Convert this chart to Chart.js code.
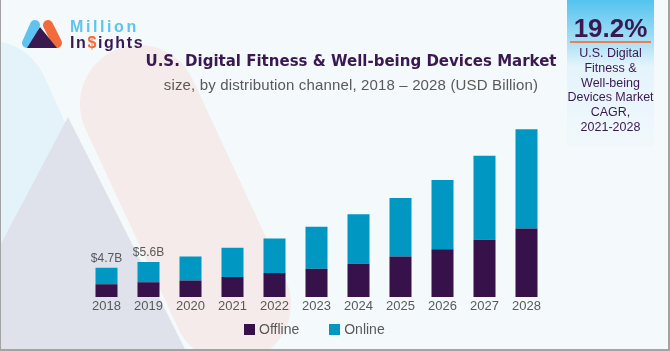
<!DOCTYPE html>
<html>
<head>
<meta charset="utf-8">
<script src="https://cdn.jsdelivr.net/npm/chart.js@4"></script>
<style>
    body { margin: 0; background: #fff; }
    #wrap { position: relative; width: 670px; height: 351px; overflow: hidden; font-family: "Liberation Sans", Arial, sans-serif; }
    #wrap svg, #wrap canvas { position: absolute; left: 0; top: 0; }
    .txt { position: absolute; white-space: nowrap; }
    #logo-million { left: 70px; top: 18px; font-size: 16px; font-weight: bold; color: #5ec3ee; letter-spacing: 2.6px; }
    #logo-insights { left: 70px; top: 34px; font-size: 16px; font-weight: bold; color: #3a1850; letter-spacing: 1.6px; }
    #logo-insights span { color: #f26b3a; }
    #title { left: 0; width: 702px; text-align: center; top: 52px; font-family: "DejaVu Sans", sans-serif; font-size: 15px; font-weight: bold; color: #3a1850; }
    #subtitle { left: 0; width: 702px; text-align: center; top: 76px; font-size: 15px; letter-spacing: 0.15px; color: #595959; }
    #cagr { position: absolute; left: 567px; top: 0; width: 87px; height: 147px;
        background: linear-gradient(#52c4ef 0%, #a9dff5 28%, #e4f4fb 45%, #f1f8fc 100%); }
    #cagr-value { left: 0; width: 87px; text-align: center; top: 13px; font-size: 26px; font-weight: bold; color: #3a1850; }
    #cagr-line { position: absolute; left: 3px; top: 41px; width: 81px; height: 2px; background: #ee7d55; }
    #cagr-text { left: 0; width: 87px; text-align: center; top: 46px; font-size: 12.5px; line-height: 14.8px; color: #3a1850; white-space: normal; }
    #legend { position: absolute; left: 244px; top: 321px; display: flex; font-size: 14px; line-height: 16px; color: #595959; }
    #legend .item { display: flex; align-items: center; margin-right: 30px; }
    #legend .box { width: 11px; height: 11px; margin-right: 4px; }
</style>
</head>
<body>
<div id="wrap">
    <svg width="670" height="351">
        <rect x="0" y="0" width="670" height="351" fill="#f4f9fc"/>
        <!-- faded logo shapes in the background -->
        <line x1="-10" y1="100" x2="40" y2="210" stroke="#e4f2fa" stroke-width="118" stroke-linecap="round"/>
        <polygon points="68,117 -60,359 190,359" fill="#dfe2eb"/>
        <line x1="139" y1="104" x2="232" y2="304" stroke="#f5ebea" stroke-width="118" stroke-linecap="round"/>
        <!-- logo icon -->
        <line x1="35" y1="25" x2="27" y2="43" stroke="#5ec3ee" stroke-width="10" stroke-linecap="round"/>
        <line x1="48" y1="25" x2="57" y2="43" stroke="#f26b3a" stroke-width="10" stroke-linecap="round"/>
        <polygon points="40,27 27,48 57,48" fill="#3a1850"/>
        <!-- frame -->
        <line x1="0.5" y1="0" x2="0.5" y2="351" stroke="#a3a3a3" stroke-width="1"/>
        <line x1="669" y1="0" x2="669" y2="351" stroke="#a3a3a3" stroke-width="2"/>
        <line x1="0" y1="350" x2="670" y2="350" stroke="#a3a3a3" stroke-width="2"/>
    </svg>
    <canvas id="chart" width="670" height="351"></canvas>
    <div class="txt" id="logo-million">Million</div>
    <div class="txt" id="logo-insights">In<span>$</span>ights</div>
    <div class="txt" id="title">U.S. Digital Fitness &amp; Well-being Devices Market</div>
    <div class="txt" id="subtitle">size, by distribution channel, 2018 – 2028 (USD Billion)</div>
    <div id="cagr">
        <div class="txt" id="cagr-value">19.2%</div>
        <div id="cagr-line"></div>
        <div class="txt" id="cagr-text">U.S. Digital<br>Fitness &amp;<br>Well-being<br>Devices Market<br>CAGR,<br>2021-2028</div>
    </div>
    <div id="legend"></div>
</div>
<script>
const years = ['2018', '2019', '2020', '2021', '2022', '2023', '2024', '2025', '2026', '2027', '2028'];
const offline = [2.05, 2.35, 2.65, 3.2, 3.85, 4.55, 5.35, 6.5, 7.65, 9.2, 11.0];
const online = [2.65, 3.25, 3.85, 4.7, 5.55, 6.75, 7.95, 9.4, 11.15, 13.5, 16.0];
const totalLabels = ['$4.7B', '$5.6B', '', '', '', '', '', '', '', '', ''];

const OFFLINE_COLOR = '#37114a';
const ONLINE_COLOR = '#0098c3';

// writes the market size above the first bars
const totalLabelPlugin = {
    id: 'totalLabels',
    afterDatasetsDraw(chart) {
        const ctx = chart.ctx;
        const meta = chart.getDatasetMeta(1);
        ctx.save();
        ctx.font = '12px "Liberation Sans", Arial, sans-serif';
        ctx.fillStyle = '#595959';
        ctx.textAlign = 'center';
        ctx.textBaseline = 'bottom';
        totalLabels.forEach((label, i) => {
            if (!label) return;
            const bar = meta.data[i];
            ctx.fillText(label, bar.x, bar.y - 3);
        });
        ctx.restore();
    }
};

const chart = new Chart(document.getElementById('chart'), {
    type: 'bar',
    data: {
        labels: years,
        datasets: [
            { label: 'Offline', data: offline, backgroundColor: OFFLINE_COLOR },
            { label: 'Online', data: online, backgroundColor: ONLINE_COLOR }
        ]
    },
    options: {
        responsive: false,
        animation: false,
        layout: { padding: { left: 85.5, right: 122.5, top: 110.5, bottom: 34.5 } },
        datasets: { bar: { barPercentage: 0.524, categoryPercentage: 1 } },
        scales: {
            x: {
                stacked: true,
                grid: { display: false, drawTicks: false },
                border: { display: false },
                ticks: { color: '#595959', font: { size: 13, family: '"Liberation Sans", Arial, sans-serif' }, padding: 2 }
            },
            y: { stacked: true, display: false, min: 0, max: 30 }
        },
        plugins: {
            legend: { display: false },
            tooltip: { enabled: false }
        }
    },
    plugins: [totalLabelPlugin]
});

// html legend, built from the datasets
const legendEl = document.getElementById('legend');
chart.data.datasets.forEach(ds => {
    const item = document.createElement('div');
    item.className = 'item';
    const box = document.createElement('span');
    box.className = 'box';
    box.style.background = ds.backgroundColor;
    item.appendChild(box);
    item.appendChild(document.createTextNode(ds.label));
    legendEl.appendChild(item);
});
</script>
</body>
</html>
